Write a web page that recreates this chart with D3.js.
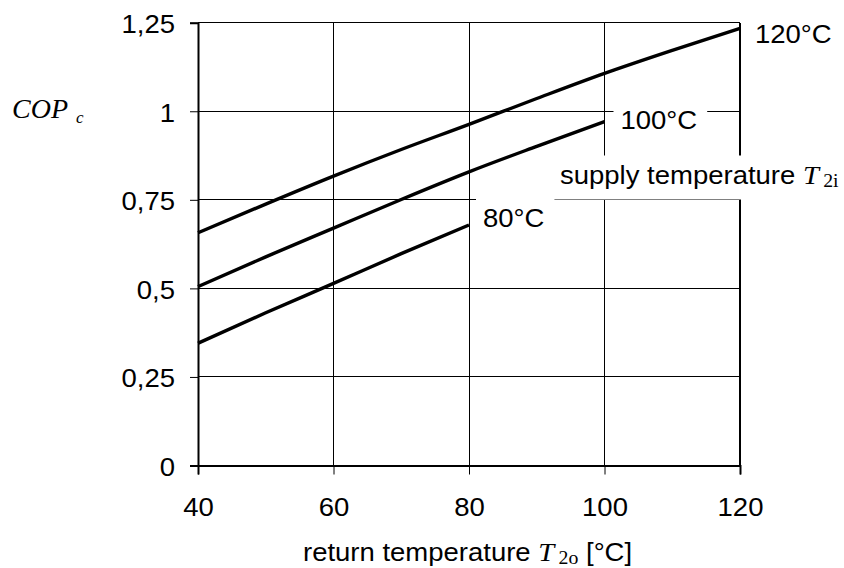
<!DOCTYPE html>
<html>
<head>
<meta charset="utf-8">
<script src="https://cdn.jsdelivr.net/npm/d3@7"></script>
<style>
  html, body { margin: 0; padding: 0; background: #fff; }
  svg { display: block; }
  .sans { font-family: "Liberation Sans", Arial, sans-serif; fill: #000; }
  .serif { font-family: "Liberation Serif", "Times New Roman", serif; fill: #000; }
</style>
</head>
<body>
<svg id="chart" width="844" height="568"></svg>
<script>
// Return temperature T2o [°C]
const returnTemps = [40, 50, 60, 70, 80, 90, 100, 110, 120];

// COP_c for each supply temperature T2i
const cop120 = [0.657, 0.738, 0.817, 0.892, 0.963, 1.036, 1.107, 1.172, 1.234];
const cop100 = [0.505, 0.589, 0.670, 0.751, 0.829, 0.901, 0.971];
const cop80  = [0.345, 0.431, 0.514, 0.598, 0.679];

const seriesLabels = ["120°C", "100°C", "80°C"];

const xTicks = [40, 60, 80, 100, 120];
const yTicks = [0, 0.25, 0.5, 0.75, 1, 1.25];
const yTickLabels = ["0", "0,25", "0,5", "0,75", "1", "1,25"];

const svg = d3.select("#chart");
const m = { left: 198, right: 740, top: 22.7, bottom: 465.5 };

const x = d3.scaleLinear().domain([40, 120]).range([m.left, m.right]);
const y = d3.scaleLinear().domain([0, 1.25]).range([m.bottom, m.top]);

const FS = 25;      // label font size
const SX = 1.1;     // horizontal stretch of the lettering
const SANS = '"Liberation Sans", Arial, sans-serif';

// grid
const grid = svg.append("g").attr("stroke", "#000").attr("stroke-width", 1).attr("shape-rendering", "crispEdges");
grid.selectAll(".h").data(yTicks.slice(1)).join("line")
  .attr("x1", m.left).attr("x2", m.right)
  .attr("y1", d => y(d)).attr("y2", d => y(d));
grid.selectAll(".v").data(xTicks.slice(1)).join("line")
  .attr("x1", d => x(d)).attr("x2", d => x(d))
  .attr("y1", m.top).attr("y2", m.bottom)
  .attr("stroke-width", d => d === 120 ? 2 : 1);

// white boxes behind the in-plot labels
const boxes = svg.append("g");

// axes (ticks outward)
const yAxis = d3.axisLeft(y).tickValues(yTicks).tickSize(8).tickFormat((d, i) => yTickLabels[i]);
const xAxis = d3.axisBottom(x).tickValues(xTicks).tickSize(9).tickFormat(d => d);

const gy = svg.append("g").attr("transform", `translate(${m.left},0)`).call(yAxis);
const gx = svg.append("g").attr("transform", `translate(0,${m.bottom})`).call(xAxis);
[gy, gx].forEach(g => {
  g.attr("font-family", null).attr("font-size", null);
  g.select(".domain").attr("stroke", "#000").attr("stroke-width", 2);
  g.selectAll(".tick line").attr("stroke", "#000").attr("stroke-width", 1);
  g.selectAll(".tick text")
    .style("font-family", SANS).attr("font-size", FS).attr("fill", "#000")
    .attr("x", 0).attr("y", 0).attr("dy", null);
});
gy.selectAll(".tick text").attr("transform", `translate(-23,10) scale(${SX},1)`);
gx.selectAll(".tick text").attr("transform", `translate(0,50.5) scale(${SX},1)`);

// curves
const line = d3.line().x(d => x(d[0])).y(d => y(d[1])).curve(d3.curveMonotoneX);
const curves = [cop120, cop100, cop80];
svg.append("g").selectAll("path").data(curves).join("path")
  .attr("d", vals => line(vals.map((v, i) => [returnTemps[i], v])))
  .attr("fill", "none").attr("stroke", "#000").attr("stroke-width", 3.4)
  .attr("stroke-linecap", "butt");

// text helper: stretched lettering anchored at (px, py)
function label(px, py, parts) {
  const g = svg.append("g").attr("transform", `translate(${px},${py}) scale(${SX},1)`);
  const t = g.append("text");
  parts.forEach(p => {
    const s = t.append("tspan").text(p.text)
      .attr("class", p.serif ? "serif" : "sans")
      .attr("font-size", p.size || FS);
    if (p.italic) s.attr("font-style", "italic");
    if (p.dy) s.attr("dy", p.dy);
    if (p.dx) s.attr("dx", p.dx);
  });
  return g;
}

// series end labels, placed relative to the last point of each curve
const endLabels = [
  { i: 0, dx: 15, dy: 15, box: false },
  { i: 1, dx: 16, dy: 7, box: true },
  { i: 2, dx: 14, dy: 2, box: true }
];
endLabels.forEach(o => {
  const last = curves[o.i].length - 1;
  const px = x(returnTemps[last]) + o.dx;
  const py = y(curves[o.i][last]) + o.dy;
  const g = label(px, py, [{ text: seriesLabels[o.i] }]);
  if (o.box) {
    const bb = g.node().getBBox();
    boxes.append("rect")
      .attr("x", px + bb.x * SX - 7).attr("y", py + bb.y - 6)
      .attr("width", bb.width * SX + 17).attr("height", bb.height + 10)
      .attr("fill", "#fff");
  }
});

// supply temperature note
label(560, 184, [
  { text: "supply temperature " },
  { text: "T", serif: true, italic: true, size: 26 },
  { text: "2i", serif: true, size: 18, dx: 4, dy: 3 }
]);
boxes.append("rect").attr("x", 554).attr("y", 155.5).attr("width", 290).attr("height", 44).attr("fill", "#fff");

// axis titles
label(303, 561, [
  { text: "return temperature " },
  { text: "T", serif: true, italic: true, size: 26 },
  { text: "2o", serif: true, size: 18, dx: 4, dy: 3 },
  { text: " [°C]", dy: -3 }
]);

const cop = svg.append("g").attr("transform", "translate(12,118)");
const ct = cop.append("text").attr("class", "serif").attr("font-style", "italic");
ct.append("tspan").text("COP").attr("font-size", 28);
ct.append("tspan").text("c").attr("font-size", 17).attr("dx", 8).attr("dy", 5);
</script>
</body>
</html>
